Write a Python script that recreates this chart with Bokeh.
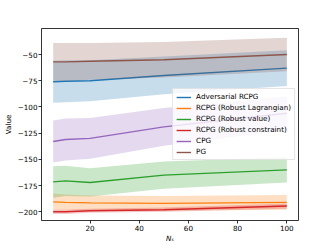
from bokeh.plotting import figure
from bokeh.models import FixedTicker, Legend, LegendItem
from bokeh.embed import file_html
from bokeh.resources import INLINE

# ---- data ----
x = [5, 10, 20, 50, 100]

adv_mean = [-76, -75.5, -75, -70, -63]
adv_std = [20, 20, 19.5, 18, 17]

lag_mean = [-190.5, -191, -191.5, -192, -191]
lag_std = [8, 7.5, 7, 7, 7]

val_mean = [-171.5, -170.5, -172, -165, -160]
val_std = [15, 14.5, 13.5, 13, 12]

con_mean = [-200, -200, -199, -198, -194.5]
con_std = [2, 2, 2, 2, 2.5]

cpg_mean = [-133, -131, -130, -119, -106]
cpg_std = [20, 20, 19.5, 18, 16]

pg_mean = [-57, -57, -56.5, -55, -50]
pg_std = [18, 18, 17.5, 17, 16]

series_names = ["Adversarial RCPG", "RCPG (Robust Lagrangian)", "RCPG (Robust value)",
                "RCPG (Robust constraint)", "CPG", "PG"]
series_colors = ["#1f77b4", "#ff7f0e", "#2ca02c", "#d62728", "#9467bd", "#8c564b"]
series_means = [adv_mean, lag_mean, val_mean, con_mean, cpg_mean, pg_mean]
series_stds = [adv_std, lag_std, val_std, con_std, cpg_std, pg_std]

x_ticks = [20, 40, 60, 80, 100]
y_ticks = [-200, -175, -150, -125, -100, -75, -50]
y_tick_labels = ["\u2212200", "\u2212175", "\u2212150", "\u2212125", "\u2212100", "\u221275", "\u221250"]

FONT = "DejaVu Sans"
FS = "7.2px"

p = figure(frame_width=257, frame_height=192, output_backend="svg", toolbar_location=None,
           x_range=(0.25, 104.75), y_range=(-208.3, -25.2),
           min_border_left=0, min_border_right=20, min_border_top=28, min_border_bottom=0)
p.background_fill_color = "white"
p.border_fill_color = "white"
p.grid.visible = False
p.outline_line_color = "black"
p.outline_line_width = 0.8

items = []
for name, col, m, s in zip(series_names, series_colors, series_means, series_stds):
    lo = [a - b for a, b in zip(m, s)]
    hi = [a + b for a, b in zip(m, s)]
    p.varea(x=x, y1=lo, y2=hi, fill_color=col, fill_alpha=0.25)
    r = p.line(x=x, y=m, line_color=col, line_width=1.4)
    items.append(LegendItem(label=name, renderers=[r]))

legend = Legend(items=items, location="right", margin=3,
                label_text_font=FONT, label_text_font_size=FS, label_text_color="black",
                label_height=8, glyph_height=8, glyph_width=15, spacing=2,
                padding=3, label_standoff=5,
                border_line_color="#cccccc", border_line_width=0.8,
                background_fill_alpha=0.8)
p.add_layout(legend, "center")

for ax in (p.xaxis[0], p.yaxis[0]):
    ax.axis_line_color = None
    ax.major_tick_line_color = "black"
    ax.major_tick_line_width = 0.8
    ax.major_tick_out = 3
    ax.major_tick_in = 0
    ax.minor_tick_line_color = None
    ax.major_label_text_font = FONT
    ax.major_label_text_font_size = FS
    ax.major_label_text_color = "black"
    ax.major_label_standoff = 1
    ax.axis_label_text_font = FONT
    ax.axis_label_text_font_size = FS
    ax.axis_label_text_font_style = "normal"
    ax.axis_label_text_color = "black"

p.xaxis[0].ticker = FixedTicker(ticks=x_ticks)
p.yaxis[0].ticker = FixedTicker(ticks=y_ticks)
p.yaxis[0].major_label_overrides = dict(zip(y_ticks, y_tick_labels))
p.xaxis[0].axis_label = "N\u209b"
p.xaxis[0].axis_label_text_font_style = "italic"
p.xaxis[0].axis_label_standoff = 0
p.yaxis[0].axis_label = "Value"
p.yaxis[0].axis_label_standoff = 2

open("out.html", "w").write(file_html(p, INLINE))
